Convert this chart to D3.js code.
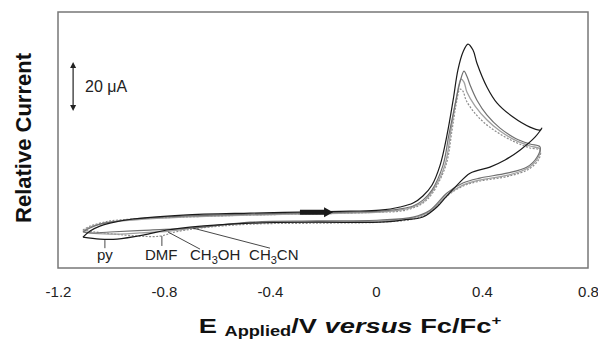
<!DOCTYPE html>
<html>
<head>
<meta charset="utf-8">
<script src="https://cdn.jsdelivr.net/npm/d3@7"></script>
<style>
  body { margin: 0; background: #fff; }
  svg { font-family: "Liberation Sans", Arial, sans-serif; }
</style>
</head>
<body>
<svg id="chart" width="598" height="340"></svg>
<script>
// x axis ticks (V vs Fc/Fc+)
const xTicks = [-1.2, -0.8, -0.4, 0, 0.4, 0.8];

// traces: [E (V), I (uA)], start at the negative vertex,
// anodic scan to the positive vertex, then the return scan
const pyTrace = [
  [-1.106, 1.2], [-1.079, 3.7], [-1.042, 5.7], [-1.004, 6.9], [-0.917, 8.6], [-0.728, 10.2],
  [-0.475, 11.0], [-0.287, 11.4], [-0.098, 11.8], [0.015, 12.2], [0.091, 13.5], [0.140, 15.1],
  [0.177, 18.0], [0.211, 22.4], [0.242, 30.6], [0.268, 42.9], [0.291, 57.1], [0.309, 69.4],
  [0.328, 76.7], [0.347, 80.0], [0.366, 77.6], [0.381, 72.2], [0.419, 62.4], [0.457, 55.9],
  [0.517, 50.2], [0.581, 46.1], [0.619, 44.9], [0.626, 45.7],
  [0.600, 42.0], [0.543, 36.7], [0.487, 32.7], [0.430, 29.8], [0.355, 27.3], [0.306, 22.4],
  [0.260, 17.1], [0.230, 13.5], [0.177, 9.4], [0.102, 8.2], [0.015, 7.3], [-0.223, 7.3],
  [-0.475, 6.9], [-0.702, 5.3], [-0.789, 4.1], [-0.879, 2.0], [-0.977, 0.4], [-1.042, 0.4],
  [-1.106, 1.2]
];

const ch3cnTrace = [
  [-1.106, 3.3], [-1.079, 4.9], [-1.042, 6.5], [-1.004, 7.3], [-0.917, 8.6], [-0.728, 9.8],
  [-0.475, 10.6], [-0.287, 11.0], [-0.098, 11.4], [0.015, 11.8], [0.091, 12.7], [0.140, 13.9],
  [0.177, 16.3], [0.211, 20.4], [0.253, 30.6], [0.275, 42.9], [0.298, 55.1], [0.317, 64.5],
  [0.332, 69.0], [0.343, 66.9], [0.355, 63.3], [0.381, 57.1], [0.419, 51.0], [0.468, 45.7],
  [0.525, 41.6], [0.581, 39.2], [0.619, 38.0],
  [0.608, 33.9], [0.570, 29.8], [0.494, 27.3], [0.392, 25.3], [0.328, 23.3], [0.268, 19.2],
  [0.204, 12.2], [0.140, 9.4], [0.015, 8.2], [-0.223, 7.8], [-0.475, 7.3], [-0.691, 4.9],
  [-0.853, 4.1], [-1.004, 3.3], [-1.079, 2.9], [-1.106, 3.3]
];

const ch3ohTrace = [
  [-1.106, 3.7], [-1.079, 5.3], [-1.042, 6.5], [-1.004, 7.3], [-0.917, 8.2], [-0.728, 9.4],
  [-0.475, 10.2], [-0.287, 10.6], [-0.098, 11.0], [0.015, 11.4], [0.091, 12.2], [0.140, 13.5],
  [0.177, 15.5], [0.211, 19.6], [0.260, 30.6], [0.283, 44.9], [0.302, 57.1], [0.321, 65.7],
  [0.332, 64.5], [0.343, 60.4], [0.374, 54.7], [0.419, 49.0], [0.468, 44.5], [0.525, 40.8],
  [0.581, 38.4], [0.619, 37.1],
  [0.611, 33.5], [0.574, 29.4], [0.498, 26.5], [0.392, 24.5], [0.328, 22.4], [0.268, 18.4],
  [0.204, 11.8], [0.140, 9.0], [0.015, 7.8], [-0.223, 7.3], [-0.475, 6.9], [-0.664, 5.3],
  [-0.777, 3.7], [-0.891, 2.9], [-1.004, 2.4], [-1.079, 2.9], [-1.106, 3.7]
];

const dmfTrace = [
  [-1.106, 4.1], [-1.079, 5.7], [-1.042, 6.9], [-1.004, 7.8], [-0.917, 8.6], [-0.728, 9.4],
  [-0.475, 10.2], [-0.287, 10.6], [-0.098, 11.0], [0.015, 11.4], [0.091, 11.8], [0.140, 13.1],
  [0.177, 15.1], [0.211, 18.8], [0.264, 30.6], [0.287, 44.9], [0.302, 55.1], [0.317, 61.6],
  [0.328, 60.8], [0.340, 57.1], [0.370, 52.2], [0.415, 47.3], [0.468, 43.3], [0.525, 40.0],
  [0.581, 37.6], [0.619, 36.7],
  [0.615, 33.1], [0.577, 29.0], [0.502, 26.1], [0.392, 24.1], [0.328, 22.0], [0.268, 18.0],
  [0.204, 11.4], [0.140, 8.6], [0.015, 7.3], [-0.223, 6.9], [-0.475, 6.5], [-0.664, 4.9],
  [-0.758, 3.3], [-0.815, 1.6], [-0.891, 1.6], [-0.985, 2.4], [-1.060, 3.3], [-1.106, 4.1]
];

// solvent labels: pointer start (on curve), pointer end, text start
const labelNames = ["py", "DMF", "CH3OH", "CH3CN"];
const labelFrom = [[-1.023, 0.0], [-0.808, 1.6], [-0.785, 3.3], [-0.691, 4.9]];
const labelTo = [[-1.023, -3.3], [-0.808, -2.4], [-0.664, -3.7], [-0.400, -3.3]];
const labelAt = [[-1.023, -8.2], [-0.872, -8.2], [-0.702, -8.2], [-0.479, -8.2]];

// scan direction arrow and 20 uA scale bar (data units)
const scanArrow = { e0: -0.287, e1: -0.162, i: 11.4 };
const scaleBar = { e: -1.143, i0: 52.7, i1: 72.7 };

const svg = d3.select("#chart");

const x = d3.scaleLinear().domain([-1.2, 0.8]).range([58, 588]);
const y = d3.scaleLinear().domain([-11.4, 93.1]).range([268, 12]);

// frame
svg.append("rect")
  .attr("x", x(-1.2)).attr("y", y(93.1))
  .attr("width", x(0.8) - x(-1.2)).attr("height", y(-11.4) - y(93.1))
  .attr("fill", "none").attr("stroke", "#777").attr("stroke-width", 1.5);

// x tick labels only
const xAxis = d3.axisBottom(x)
  .tickValues(xTicks)
  .tickSize(0)
  .tickPadding(18)
  .tickFormat(d => d === 0 ? "0" : d.toFixed(1));

const gx = svg.append("g")
  .attr("transform", `translate(0,${y(-11.4)})`)
  .call(xAxis);
gx.select(".domain").remove();
gx.selectAll("text")
  .attr("font-size", 15)
  .attr("font-family", "Liberation Sans, Arial, sans-serif")
  .attr("fill", "#222");

// traces
const series = [
  { pts: dmfTrace, color: "#8c8c8c", width: 1.2, dash: "2,1.5" },
  { pts: ch3ohTrace, color: "#a0a0a0", width: 1.3, dash: null },
  { pts: ch3cnTrace, color: "#707070", width: 1.2, dash: null },
  { pts: pyTrace, color: "#1a1a1a", width: 1.2, dash: null }
];

const line = d3.line()
  .x(d => x(d[0]))
  .y(d => y(d[1]))
  .curve(d3.curveCatmullRom.alpha(0.5));

svg.append("g").selectAll("path")
  .data(series)
  .join("path")
  .attr("d", d => line(d.pts))
  .attr("fill", "none")
  .attr("stroke", d => d.color)
  .attr("stroke-width", d => d.width)
  .attr("stroke-dasharray", d => d.dash)
  .attr("stroke-linejoin", "round");

// scan direction arrow
const ax0 = x(scanArrow.e0), ax1 = x(scanArrow.e1), ay = y(scanArrow.i);
svg.append("path")
  .attr("d", `M${ax0},${ay - 2.5}L${ax1 - 9},${ay - 2.5}L${ax1 - 9},${ay - 5}L${ax1},${ay}` +
             `L${ax1 - 9},${ay + 5}L${ax1 - 9},${ay + 2.5}L${ax0},${ay + 2.5}Z`)
  .attr("fill", "#1a1a1a");

// scale bar
const sx = x(scaleBar.e), sy0 = y(scaleBar.i1), sy1 = y(scaleBar.i0);
svg.append("line")
  .attr("x1", sx).attr("x2", sx).attr("y1", sy0 + 3).attr("y2", sy1 - 3)
  .attr("stroke", "#222").attr("stroke-width", 1.2);
svg.append("path")
  .attr("d", `M${sx},${sy0}L${sx - 3},${sy0 + 6}L${sx + 3},${sy0 + 6}Z` +
             `M${sx},${sy1}L${sx - 3},${sy1 - 6}L${sx + 3},${sy1 - 6}Z`)
  .attr("fill", "#222");
svg.append("text")
  .attr("x", sx + 12).attr("y", y((scaleBar.i0 + scaleBar.i1) / 2) + 6)
  .attr("font-size", 16).attr("fill", "#222")
  .text("20 \u03bcA");

// solvent labels
labelNames.forEach((name, k) => {
  svg.append("line")
    .attr("x1", x(labelFrom[k][0])).attr("y1", y(labelFrom[k][1]))
    .attr("x2", x(labelTo[k][0])).attr("y2", y(labelTo[k][1]))
    .attr("stroke", "#333").attr("stroke-width", 0.9);
  const t = svg.append("text")
    .attr("x", x(labelAt[k][0])).attr("y", y(labelAt[k][1]))
    .attr("font-size", 15).attr("fill", "#222")
    .attr("text-anchor", name === "py" ? "middle" : "start");
  const m = name.match(/^(CH)3(.*)$/);
  if (m) {
    t.append("tspan").text(m[1]);
    t.append("tspan").attr("font-size", 11).attr("dy", 4).text("3");
    t.append("tspan").attr("dy", -4).text(m[2]);
  } else {
    t.text(name);
  }
});

// axis titles
svg.append("text")
  .attr("transform", "translate(31,138) rotate(-90)")
  .attr("text-anchor", "middle")
  .attr("font-size", 22).attr("font-weight", "bold").attr("fill", "#111")
  .text("Relative Current");

const xt = svg.append("g")
  .attr("transform", "translate(350,333) scale(1.3,1)")
  .append("text")
  .attr("text-anchor", "middle")
  .attr("font-size", 21).attr("font-weight", "bold").attr("fill", "#111");
xt.append("tspan").text("E ");
xt.append("tspan").attr("font-size", 14).attr("dy", 3).text("Applied");
xt.append("tspan").attr("dy", -3).text("/V ");
xt.append("tspan").attr("font-style", "italic").text("versus");
xt.append("tspan").text("  Fc/Fc");
xt.append("tspan").attr("font-size", 13).attr("dy", -8).text("+");
</script>
</body>
</html>
